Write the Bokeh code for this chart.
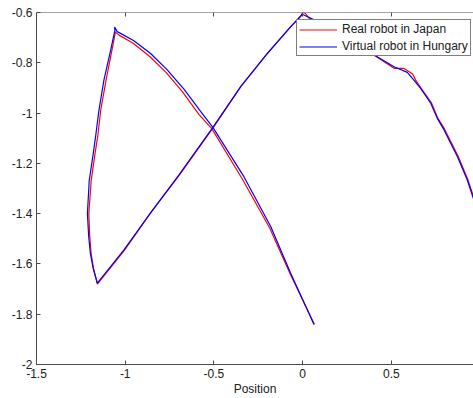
from bokeh.plotting import figure
from bokeh.models import Range1d, LinearAxis, FixedTicker, Legend, LegendItem
from bokeh.embed import file_html
from bokeh.resources import INLINE

# ---- data ----
real_x = [0.066, -0.070, -0.185, -0.340, -0.512, -0.585, -0.678, -0.770, -0.862, -0.955, -1.035, -1.052, -1.055,
          -1.072, -1.108, -1.138, -1.155, -1.170, -1.192, -1.205, -1.200, -1.192, -1.178, -1.157,
          -1.005, -0.855, -0.695, -0.503, -0.347, -0.197, -0.066, -0.010, 0.000, 0.015, 0.035,
          0.160, 0.300, 0.425, 0.515, 0.569, 0.620, 0.637, 0.668, 0.725, 0.760, 0.800, 0.875, 0.930, 0.962]
real_y = [-1.840, -1.640, -1.458, -1.262, -1.062, -1.005, -0.915, -0.838, -0.775, -0.722, -0.690, -0.680, -0.677,
          -0.740, -0.869, -0.988, -1.094, -1.160, -1.270, -1.400, -1.490, -1.560, -1.620, -1.680,
          -1.546, -1.395, -1.247, -1.057, -0.893, -0.762, -0.655, -0.615, -0.600, -0.603, -0.622,
          -0.665, -0.725, -0.780, -0.822, -0.822, -0.845, -0.869, -0.902, -0.958, -1.018, -1.064, -1.170, -1.262, -1.330]

virtual_x = [0.064, -0.068, -0.180, -0.331, -0.506, -0.575, -0.669, -0.763, -0.857, -0.951, -1.026, -1.045, -1.060, -1.058,
             -1.082, -1.120, -1.148, -1.167, -1.180, -1.203, -1.213, -1.206, -1.196, -1.180, -1.157,
             -1.007, -0.857, -0.697, -0.506, -0.349, -0.199, -0.068, -0.002,
             0.158, 0.300, 0.425, 0.515, 0.590, 0.627, 0.665, 0.722, 0.759, 0.797, 0.872, 0.928, 0.965]
virtual_y = [-1.841, -1.636, -1.451, -1.253, -1.057, -0.993, -0.905, -0.828, -0.763, -0.712, -0.683, -0.676, -0.658, -0.670,
             -0.750, -0.869, -0.988, -1.094, -1.160, -1.270, -1.400, -1.490, -1.560, -1.620, -1.676,
             -1.544, -1.397, -1.246, -1.057, -0.895, -0.763, -0.657, -0.607,
             -0.660, -0.720, -0.778, -0.816, -0.838, -0.869, -0.902, -0.961, -1.021, -1.067, -1.173, -1.266, -1.345]

x_ticks = [-1.5, -1, -0.5, 0, 0.5]
x_tick_labels = ["-1.5", "-1", "-0.5", "0", "0.5"]
y_ticks = [-2, -1.8, -1.6, -1.4, -1.2, -1, -0.8, -0.6]
y_tick_labels = ["-2", "-1.8", "-1.6", "-1.4", "-1.2", "-1", "-0.8", "-0.6"]
series_names = ["Real robot in Japan", "Virtual robot in Hungary"]
x_label = "Position"

FONT = "Liberation Sans"
AX = "#4a4a4a"
TXT = "#202020"

p = figure(width=473, height=398, output_backend="svg", toolbar_location=None,
           x_range=Range1d(-1.5, 0.963), y_range=Range1d(-2, -0.6),
           x_axis_location=None, y_axis_location=None,
           min_border_left=36, min_border_right=0, min_border_top=12, min_border_bottom=33)
p.grid.visible = False
p.outline_line_color = None
p.background_fill_color = "white"
p.border_fill_color = "white"

def style(ax):
    ax.axis_line_color = AX
    ax.axis_line_width = 1
    ax.major_tick_line_color = AX
    ax.major_tick_in = 4
    ax.major_tick_out = 0
    ax.minor_tick_line_color = None
    ax.major_label_text_font = FONT
    ax.major_label_text_font_size = "12px"
    ax.major_label_text_color = TXT

xb = LinearAxis(ticker=FixedTicker(ticks=x_ticks),
                major_label_overrides={t: l for t, l in zip(x_ticks, x_tick_labels)},
                axis_label=x_label)
style(xb)
xb.major_label_standoff = 4
xb.axis_label_standoff = 1
xb.axis_label_text_font = FONT
xb.axis_label_text_font_size = "12px"
xb.axis_label_text_font_style = "normal"
xb.axis_label_text_color = TXT
p.add_layout(xb, "below")

yl = LinearAxis(ticker=FixedTicker(ticks=y_ticks),
                major_label_overrides={t: l for t, l in zip(y_ticks, y_tick_labels)})
style(yl)
yl.major_label_standoff = 4
p.add_layout(yl, "left")

xt = LinearAxis(ticker=FixedTicker(ticks=x_ticks), fixed_location=-0.6)
style(xt)
xt.major_label_text_color = None
p.add_layout(xt, "above")

r_real = p.line(real_x, real_y, line_color="#ff0000", line_width=1.2)
r_virt = p.line(virtual_x, virtual_y, line_color="#0000ff", line_width=1.2)

legend = Legend(items=[LegendItem(label=series_names[0], renderers=[r_real]),
                       LegendItem(label=series_names[1], renderers=[r_virt])],
                location=(260, 308), padding=2, spacing=3, margin=0,
                glyph_width=38, glyph_height=13, label_height=13, label_standoff=5,
                label_text_font=FONT, label_text_font_size="12px", label_text_color=TXT,
                border_line_color="black", border_line_width=1,
                background_fill_color="white", background_fill_alpha=1)
p.add_layout(legend, "center")

open("out.html", "w").write(file_html(p, INLINE))
